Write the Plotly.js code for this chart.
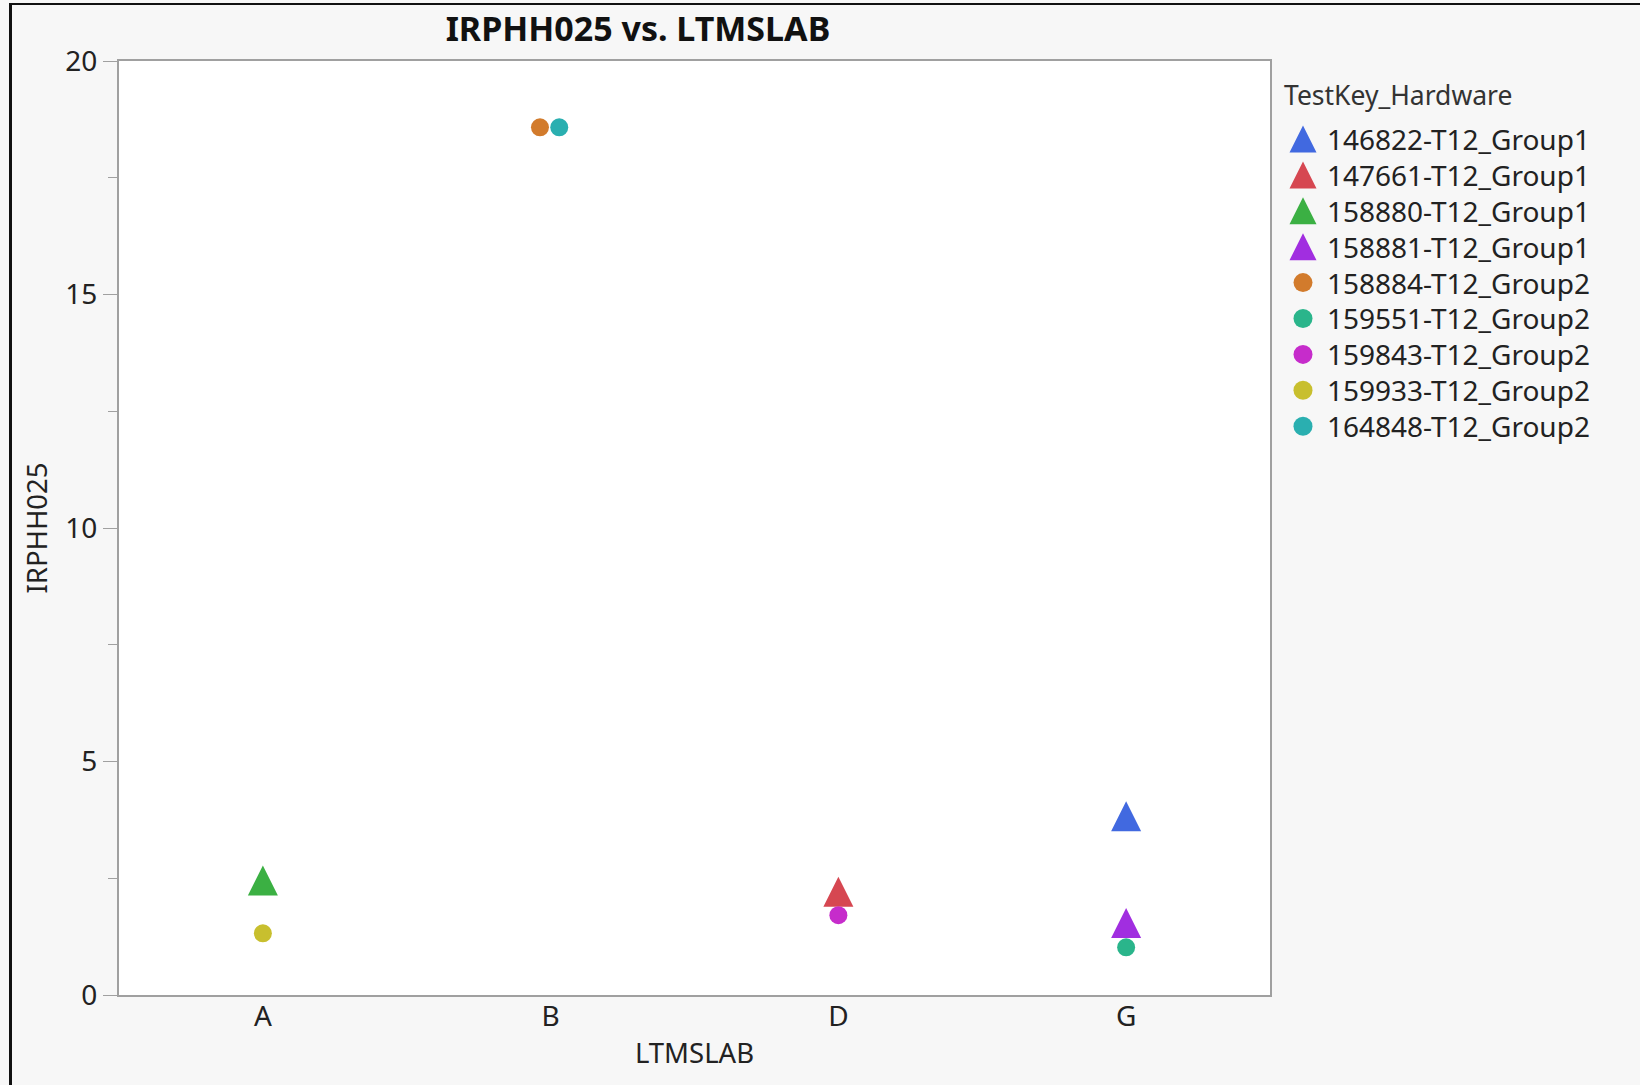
<!DOCTYPE html>
<html>
<head>
<meta charset="utf-8">
<script src="https://cdn.plot.ly/plotly-3.0.1.min.js"></script>
<style>
  html, body { margin: 0; padding: 0; background: #f7f7f7; }
  #chart { width: 1640px; height: 1085px; }
  #frame { position: absolute; left: 9px; top: 3px; width: 1700px; height: 1200px;
           border-left: 3px solid #111; border-top: 2px solid #111; pointer-events: none; }
</style>
</head>
<body>
<div id="chart"></div>
<div id="frame"></div>
<script>
// ---- data ----
const categories = ['A', 'B', 'D', 'G'];
const series = ['146822-T12_Group1', '147661-T12_Group1', '158880-T12_Group1', '158881-T12_Group1',
                '158884-T12_Group2', '159551-T12_Group2', '159843-T12_Group2', '159933-T12_Group2',
                '164848-T12_Group2'];
const lab = ['G', 'D', 'A', 'G', 'B', 'G', 'D', 'A', 'B'];
const irphh025 = [3.83, 2.21, 2.45, 1.54, 18.58, 1.02, 1.71, 1.32, 18.58];
const jitter = [0, 0, 0, 0, -0.037, 0, 0, 0, 0.030];
const colors = ['#4169e0', '#d64751', '#3bb043', '#a12ee0', '#d27b2c', '#2ab58b', '#c62ccb', '#c8bf2e', '#2aafb0'];
const legendTitle = 'TestKey_Hardware';

const FONT = '"Noto Sans", "Open Sans", sans-serif';
const TXT = '#222';

// marker style for a series: Group1 -> triangles, Group2 -> circles
function markerFor(i, triSize, circSize) {
  const tri = series[i].endsWith('Group1');
  return tri
    ? { symbol: 'arrow-down', angle: 180, standoff: triSize / 2, size: triSize, color: colors[i], line: { width: 0 } }
    : { symbol: 'circle', size: circSize, color: colors[i], line: { width: 0 } };
}

// main scatter traces
const traces = series.map((name, i) => ({
  type: 'scatter', mode: 'markers', name: name, showlegend: false,
  xaxis: 'x', yaxis: 'y',
  x: [categories.indexOf(lab[i]) + jitter[i]],
  y: [irphh025[i]],
  marker: markerFor(i, 30, 18),
  hoverinfo: 'name+y'
}));

// legend drawn as its own small subplot: one symbol per series + the names as text
const legendSymbols = series.map((name, i) => ({
  type: 'scatter', mode: 'markers', name: name, showlegend: false,
  xaxis: 'x2', yaxis: 'y2',
  x: [21], y: [i],
  marker: markerFor(i, 27, 19),
  hoverinfo: 'skip'
}));
const legendText = {
  type: 'scatter', mode: 'text', showlegend: false,
  xaxis: 'x2', yaxis: 'y3',
  x: series.map(() => 45), y: series.map((s, i) => i),
  text: series, textposition: 'middle right',
  textfont: { family: FONT, size: 28, color: TXT },
  hoverinfo: 'skip'
};

// geometry (px) of the plot frame inside the 1640x1085 figure
const L = 119, T = 61, B = 90, PLOT_R = 1270;
const W = 1640 - L, H = 1085 - T - B;
const LEG_LEFT = 1282, ROW0 = 139, ROW = 35.9, TEXT_DROP = 4;
const legTop = ROW0 - ROW / 2, legBot = ROW0 + (series.length - 0.5) * ROW;

const layout = {
  width: 1640, height: 1085,
  paper_bgcolor: '#f7f7f7', plot_bgcolor: 'rgba(0,0,0,0)',
  margin: { l: L, r: 0, t: T, b: B },
  font: { family: FONT, color: TXT, size: 28 },
  title: { text: 'IRPHH025 vs. LTMSLAB', font: { family: FONT, size: 34, color: '#111', weight: 'bold' },
           x: 0.389, xanchor: 'center', xref: 'container', y: 0.973, yanchor: 'middle', yref: 'container' },
  showlegend: false,
  xaxis: {
    domain: [0, (PLOT_R - L) / W],
    type: 'linear', range: [-0.5, 3.5],
    tickvals: categories.map((c, i) => i), ticktext: categories,
    showgrid: false, zeroline: false,
    showline: true, linecolor: '#a0a0a0', linewidth: 2, mirror: true,
    ticks: '', ticklabelstandoff: -5, tickfont: { family: FONT, size: 28, color: TXT },
    title: { text: 'LTMSLAB', font: { family: FONT, size: 27.5, color: TXT }, standoff: 11 }
  },
  yaxis: {
    range: [0, 20], tickvals: [0, 5, 10, 15, 20],
    showgrid: false, zeroline: false,
    showline: true, linecolor: '#a0a0a0', linewidth: 2, mirror: true,
    ticks: 'outside', ticklen: 14, tickwidth: 1, tickcolor: '#a0a0a0',
    minor: { tickvals: [2.5, 7.5, 12.5, 17.5], ticks: 'outside', ticklen: 9, tickcolor: '#a0a0a0', tickwidth: 1 },
    tickfont: { family: FONT, size: 28, color: TXT },
    title: { text: 'IRPHH025', font: { family: FONT, size: 27.5, color: TXT }, standoff: 10 }
  },
  xaxis2: {
    domain: [(LEG_LEFT - L) / W, 1], anchor: 'y2',
    range: [0, 1640 - LEG_LEFT], visible: false, fixedrange: true
  },
  yaxis2: {
    domain: [1 - (legBot - T) / H, 1 - (legTop - T) / H], anchor: 'x2',
    range: [series.length - 0.5, -0.5], visible: false, fixedrange: true
  },
  yaxis3: {
    domain: [1 - (legBot + TEXT_DROP - T) / H, 1 - (legTop + TEXT_DROP - T) / H], anchor: 'x2',
    range: [series.length - 0.5, -0.5], visible: false, fixedrange: true
  },
  shapes: [{
    type: 'rect', xref: 'x domain', yref: 'y domain', x0: 0, x1: 1, y0: 0, y1: 1,
    fillcolor: '#ffffff', line: { width: 0 }, layer: 'below'
  }],
  annotations: [{
    text: legendTitle, xref: 'paper', yref: 'paper',
    x: (LEG_LEFT - L) / W, xanchor: 'left', y: 1 - (95 - T) / H, yanchor: 'middle',
    showarrow: false, font: { family: FONT, size: 26.5, color: '#333' }
  }]
};

Plotly.newPlot('chart', traces.concat(legendSymbols, [legendText]), layout, { displayModeBar: false });
</script>
</body>
</html>
